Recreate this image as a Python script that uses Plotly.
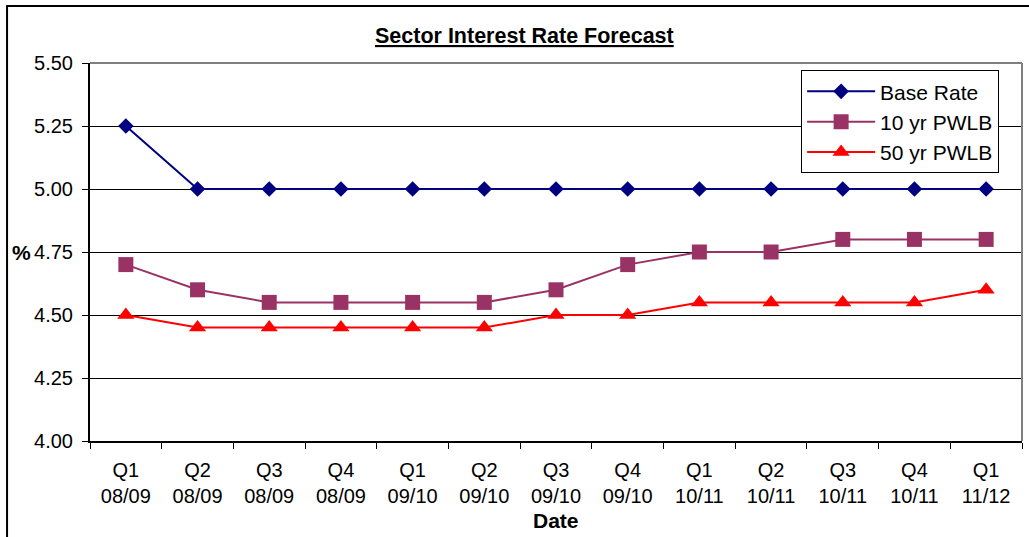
import plotly.graph_objects as go

categories = ["Q1<br>08/09", "Q2<br>08/09", "Q3<br>08/09", "Q4<br>08/09",
              "Q1<br>09/10", "Q2<br>09/10", "Q3<br>09/10", "Q4<br>09/10",
              "Q1<br>10/11", "Q2<br>10/11", "Q3<br>10/11", "Q4<br>10/11",
              "Q1<br>11/12"]
base_rate = [5.25, 5.00, 5.00, 5.00, 5.00, 5.00, 5.00, 5.00, 5.00, 5.00, 5.00, 5.00, 5.00]
pwlb_10 = [4.70, 4.60, 4.55, 4.55, 4.55, 4.55, 4.60, 4.70, 4.75, 4.75, 4.80, 4.80, 4.80]
pwlb_50 = [4.50, 4.45, 4.45, 4.45, 4.45, 4.45, 4.50, 4.50, 4.55, 4.55, 4.55, 4.55, 4.60]
y_ticks = [4.00, 4.25, 4.50, 4.75, 5.00, 5.25, 5.50]

FONT = "Liberation Sans, Arial, sans-serif"

fig = go.Figure()
fig.add_trace(go.Scatter(x=categories, y=base_rate, name="Base Rate", mode="lines+markers",
                         line=dict(color="#000080", width=2),
                         marker=dict(symbol="diamond", size=12, color="#000080")))
fig.add_trace(go.Scatter(x=categories, y=pwlb_10, name="10 yr PWLB", mode="lines+markers",
                         line=dict(color="#993366", width=2),
                         marker=dict(symbol="square", size=15, color="#993366")))
fig.add_trace(go.Scatter(x=categories, y=pwlb_50, name="50 yr PWLB", mode="lines+markers",
                         line=dict(color="#FF0000", width=2),
                         marker=dict(symbol="triangle-up", size=15, color="#FF0000")))

fig.update_layout(
    width=1029, height=537,
    margin=dict(l=90, r=7, t=63, b=96),
    paper_bgcolor="white", plot_bgcolor="white",
    font=dict(family=FONT, size=20, color="black"),
    showlegend=True,
    legend=dict(x=0.763, y=0.981, xanchor="left", yanchor="top",
                bgcolor="white", bordercolor="black", borderwidth=1,
                font=dict(family=FONT, size=21, color="black"),
                itemwidth=68, tracegroupgap=0),
    xaxis=dict(type="category", range=[-0.5, 12.5], showgrid=False,
               showline=True, linecolor="black", linewidth=2,
               ticks="outside", ticklen=6, tickcolor="black", tickson="boundaries",
               ticklabelstandoff=10,
               tickfont=dict(family=FONT, size=20, color="black")),
    yaxis=dict(range=[4.0, 5.5], tickmode="array", tickvals=y_ticks,
               tickformat=".2f", showgrid=True, gridcolor="black", gridwidth=1,
               showline=True, linecolor="black", linewidth=2,
               ticks="outside", ticklen=6, tickcolor="black", ticklabelstandoff=5,
               tickfont=dict(family=FONT, size=20, color="black"), zeroline=False),
    annotations=[
        dict(text="<b>Sector Interest Rate Forecast</b>", xref="paper", yref="paper",
             x=0.4667, y=1.0714, xanchor="center", yanchor="middle", showarrow=False,
             font=dict(family=FONT, size=21.5, color="black", lineposition="under")),
        dict(text="<b>%</b>", xref="paper", yref="paper", x=-0.074, y=0.5,
             xanchor="center", yanchor="middle", showarrow=False,
             font=dict(family=FONT, size=21, color="black")),
        dict(text="<b>Date</b>", xref="paper", yref="paper", x=0.5, y=-0.209,
             xanchor="center", yanchor="middle", showarrow=False,
             font=dict(family=FONT, size=21, color="black")),
    ],
    shapes=[
        dict(type="rect", xref="paper", yref="paper", x0=-0.089, x1=1.02, y0=-0.3, y1=1.1508,
             line=dict(color="black", width=2), fillcolor="rgba(0,0,0,0)", layer="below"),
        dict(type="line", xref="paper", yref="paper", x0=0, x1=1, y0=1, y1=1,
             line=dict(color="#808080", width=2), layer="above"),
        dict(type="line", xref="paper", yref="paper", x0=1, x1=1, y0=0, y1=1,
             line=dict(color="#808080", width=2), layer="above"),
    ],
)

fig.write_html("out.html")
